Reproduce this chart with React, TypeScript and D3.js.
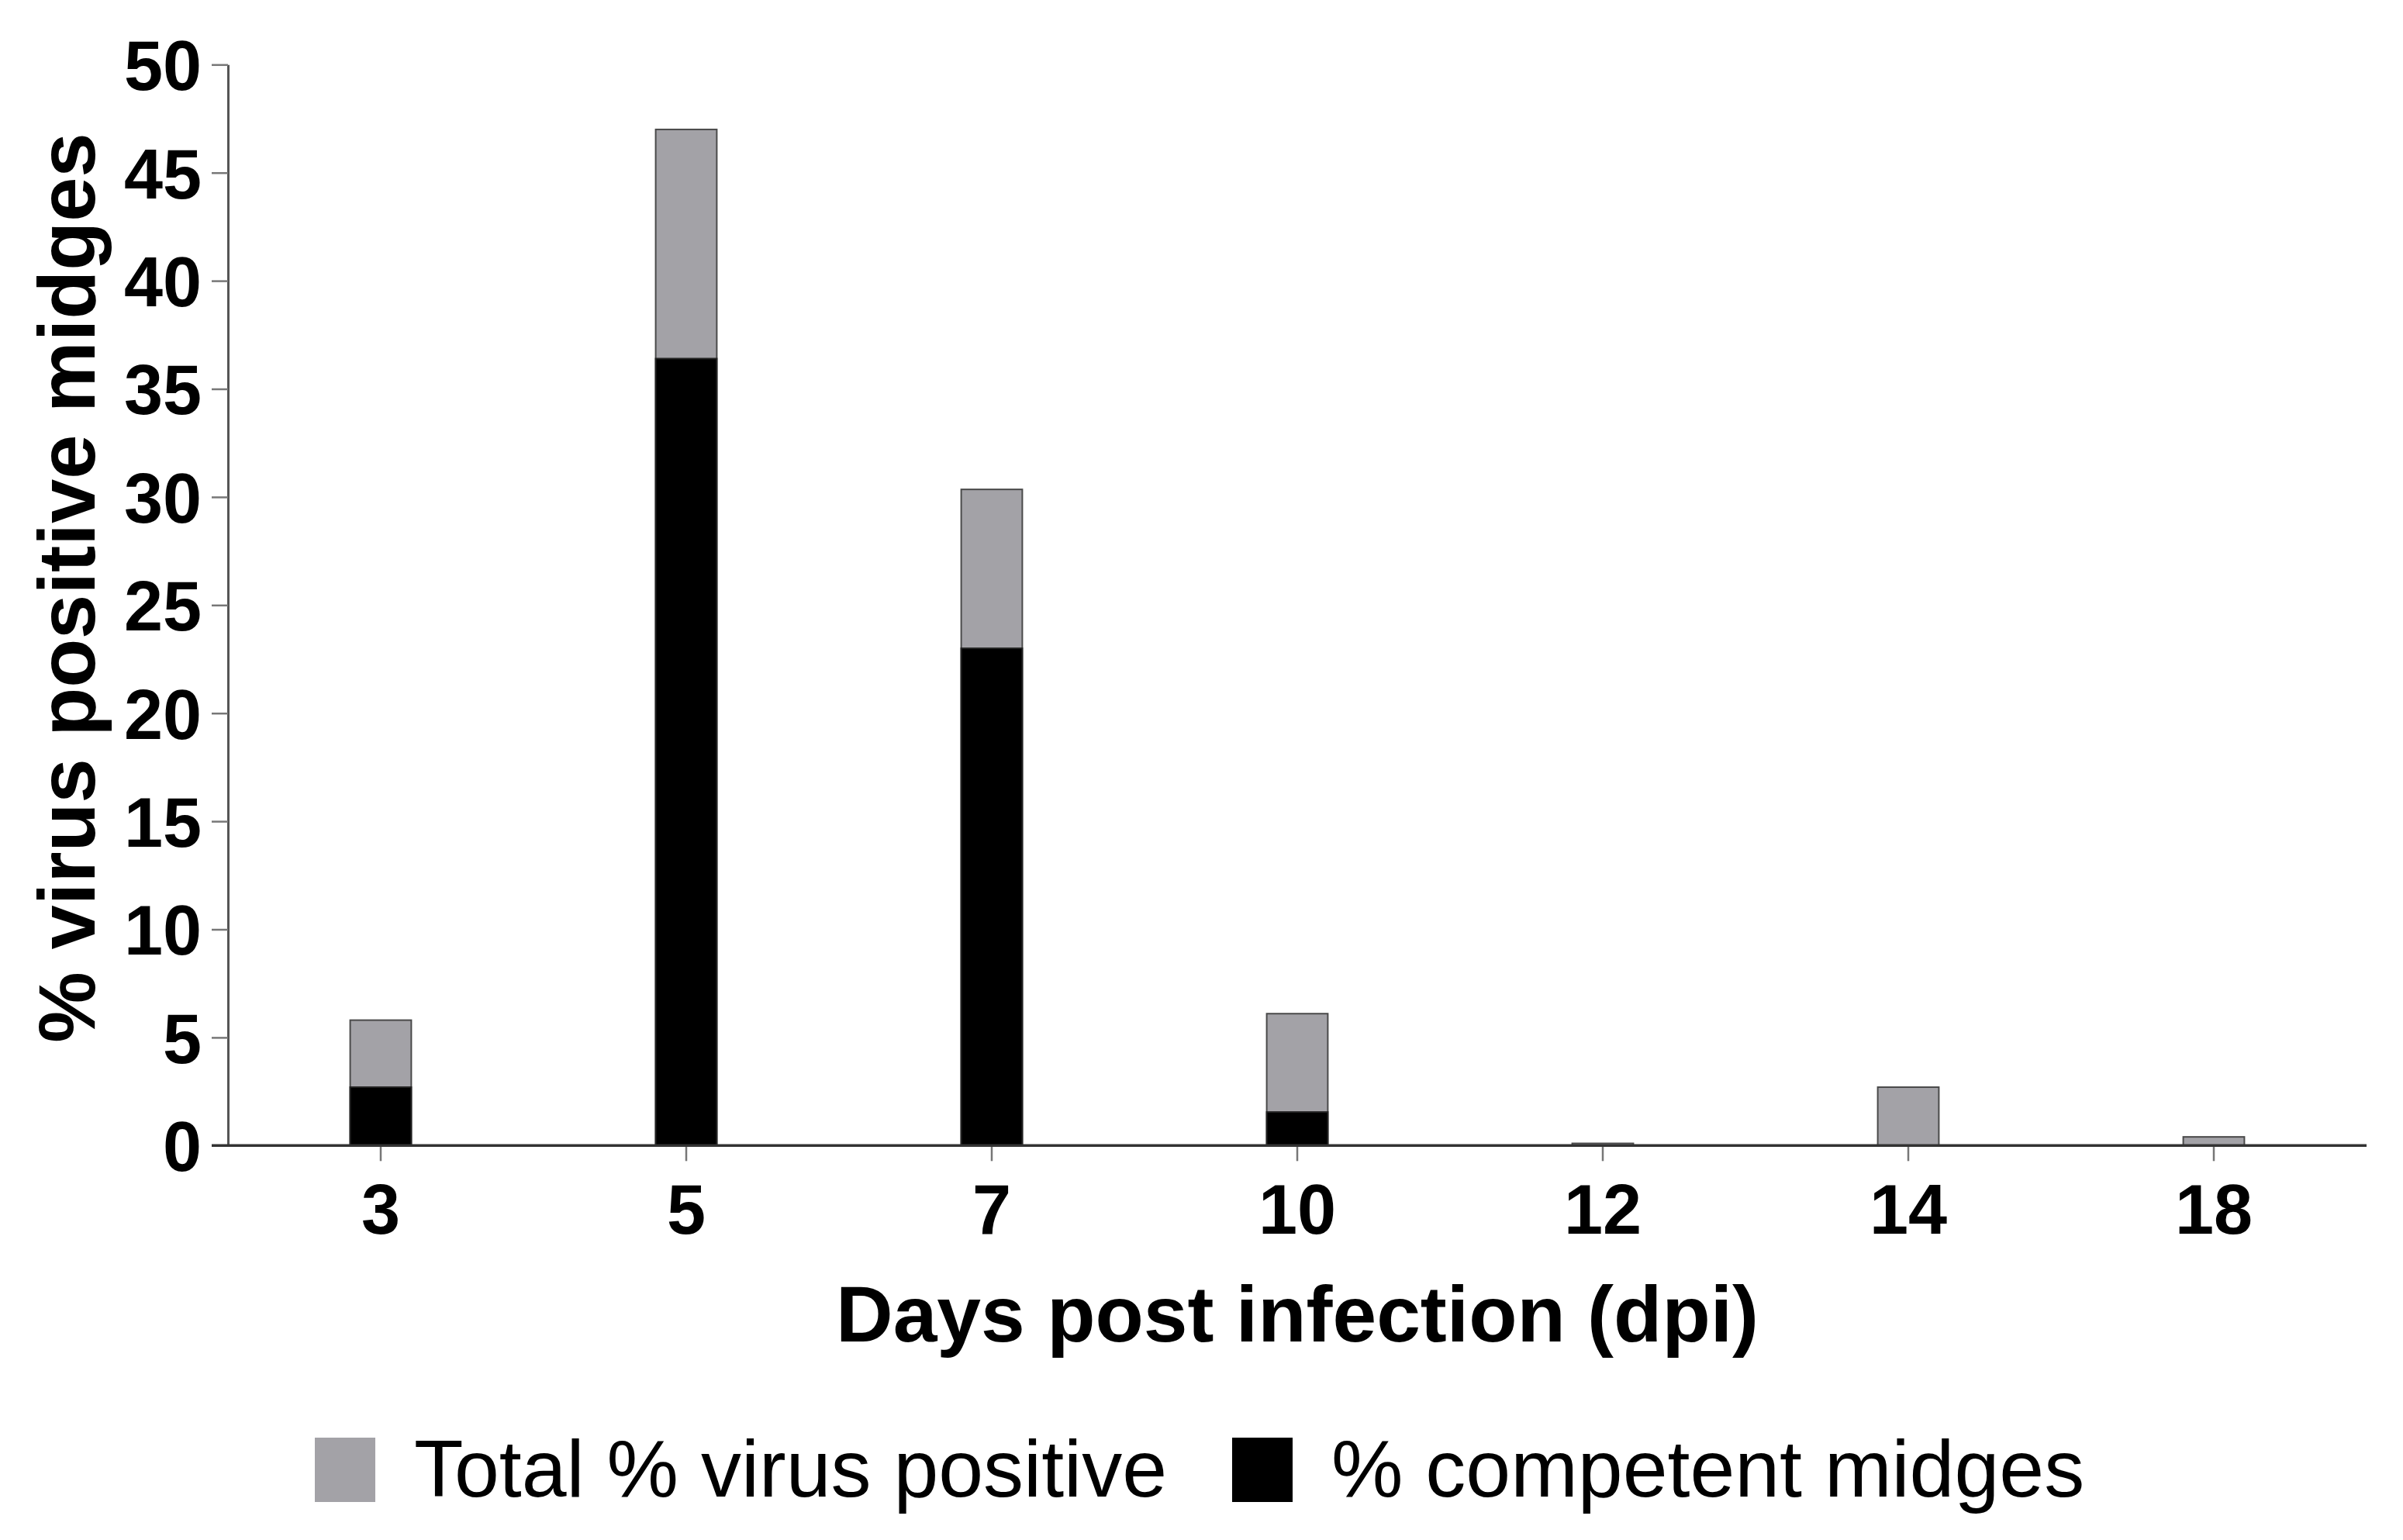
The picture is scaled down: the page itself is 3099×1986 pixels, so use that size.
import React, { useRef, useEffect } from "react";
import * as d3 from "d3";

const days: string[] = ["3", "5", "7", "10", "12", "14", "18"];
const totalPositive: number[] = [5.8, 47.0, 30.35, 6.1, 0.1, 2.7, 0.4];
const competentMidges: number[] = [2.7, 36.4, 23.0, 1.55, 0, 0, 0];
const yTicks: number[] = [0, 5, 10, 15, 20, 25, 30, 35, 40, 45, 50];
const legendLabels: string[] = ["Total % virus positive", "% competent midges"];

const GRAY = "#a3a2a7";
const FONT = "'Liberation Sans', Arial, Helvetica, sans-serif";

const App: React.FC = () => {
  const svgRef = useRef<SVGSVGElement | null>(null);

  useEffect(() => {
    const width = 3099;
    const height = 1986;
    const left = 294;
    const right = 3052;
    const top = 83.3;
    const bottom = 1477.3;

    const svg = d3.select(svgRef.current);
    svg.selectAll("*").remove();

    svg.append("rect").attr("width", width).attr("height", height).attr("fill", "#fff");

    const x = d3.scaleBand<string>()
      .domain(days)
      .range([left, right])
      .paddingInner(0.8)
      .paddingOuter(0.4);

    const y = d3.scaleLinear().domain([0, 50]).range([bottom, top]);

    // bars: total first, competent part on top of it
    const rows = days.map((d, i) => ({ day: d, total: totalPositive[i], comp: competentMidges[i] }));

    svg.append("g")
      .selectAll("rect")
      .data(rows)
      .join("rect")
      .attr("x", (d) => x(d.day)!)
      .attr("y", (d) => y(d.total))
      .attr("width", x.bandwidth())
      .attr("height", (d) => y(0) - y(d.total))
      .attr("fill", GRAY)
      .attr("stroke", "#4a4a4a")
      .attr("stroke-width", 2);

    svg.append("g")
      .selectAll("rect")
      .data(rows.filter((d) => d.comp > 0))
      .join("rect")
      .attr("x", (d) => x(d.day)!)
      .attr("y", (d) => y(d.comp))
      .attr("width", x.bandwidth())
      .attr("height", (d) => y(0) - y(d.comp))
      .attr("fill", "#000")
      .attr("stroke", "#222")
      .attr("stroke-width", 2);

    // y axis
    const yAxis = d3.axisLeft(y).tickValues(yTicks).tickSize(21).tickSizeOuter(0).tickPadding(13);
    const gy = svg.append("g").attr("transform", `translate(${left},0)`).call(yAxis);
    gy.select(".domain").attr("stroke", "#555").attr("stroke-width", 3);
    gy.selectAll(".tick line").attr("stroke", "#777").attr("stroke-width", 2.5);
    gy.selectAll(".tick text")
      .attr("fill", "#000")
      .attr("dy", "0.36em")
      .style("font-family", FONT)
      .style("font-weight", "bold")
      .style("font-size", "90px");

    // x axis
    const xAxis = d3.axisBottom(x).tickSize(20).tickSizeOuter(0).tickPadding(0);
    const gx = svg.append("g").attr("transform", `translate(0,${bottom})`).call(xAxis);
    gx.select(".domain").remove();
    gx.selectAll(".tick line").attr("stroke", "#777").attr("stroke-width", 2.5);
    gx.selectAll(".tick text")
      .attr("fill", "#000")
      .attr("y", 1591 - bottom)
      .attr("dy", null)
      .style("font-family", FONT)
      .style("font-weight", "bold")
      .style("font-size", "90px");

    svg.append("line")
      .attr("x1", 273)
      .attr("x2", right)
      .attr("y1", y(0))
      .attr("y2", y(0))
      .attr("stroke", "#333")
      .attr("stroke-width", 3.5);

    // axis titles
    svg.append("text")
      .attr("x", (left + right) / 2)
      .attr("y", 1730)
      .attr("text-anchor", "middle")
      .style("font-family", FONT)
      .style("font-weight", "bold")
      .style("font-size", "102px")
      .text("Days post infection (dpi)");

    svg.append("text")
      .attr("transform", "translate(122,758) rotate(-90)")
      .attr("text-anchor", "middle")
      .style("font-family", FONT)
      .style("font-weight", "bold")
      .style("font-size", "103px")
      .text("% virus positive midges");

    // legend
    const legendX = [406, 1589];
    const legendColors = [GRAY, "#000"];
    legendLabels.forEach((label, i) => {
      const row = svg.append("g").attr("transform", `translate(${legendX[i]},1854)`);
      row.append("rect")
        .attr("width", 78)
        .attr("height", 83)
        .attr("fill", legendColors[i]);
      row.append("text")
        .attr("x", 128)
        .attr("y", 76)
        .style("font-family", FONT)
        .style("font-size", "104px")
        .text(label);
    });
  }, []);

  return (
    <div style={{ position: "absolute", left: 0, top: 0 }}>
      <svg ref={svgRef} width={3099} height={1986} style={{ display: "block" }} />
    </div>
  );
};

export default App;
